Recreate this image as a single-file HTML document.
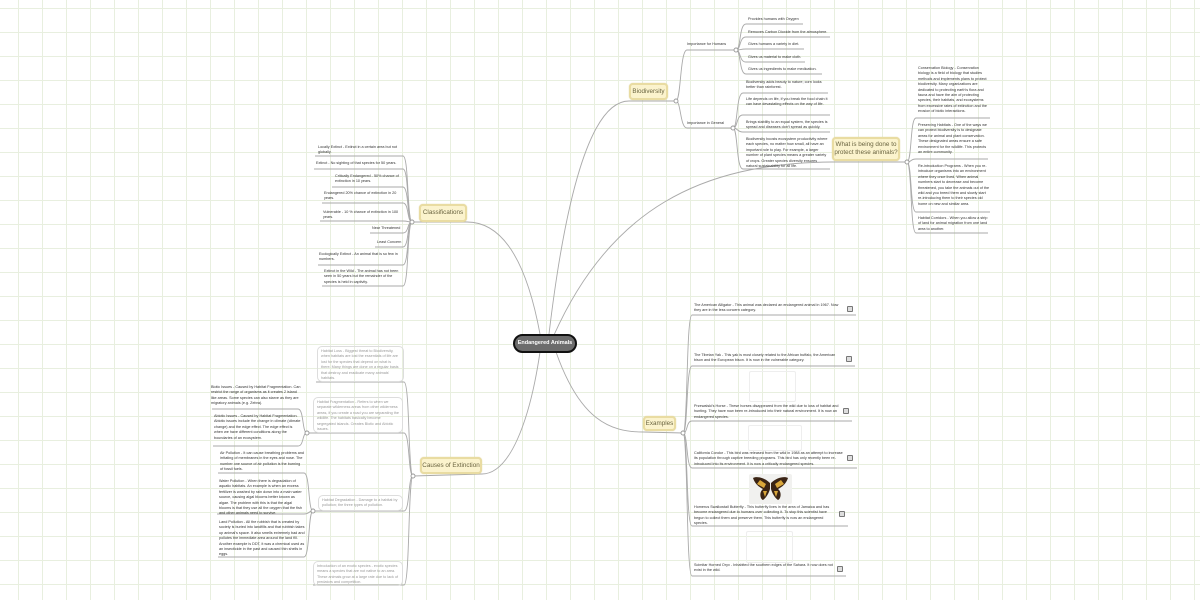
<!DOCTYPE html>
<html><head><meta charset="utf-8">
<style>
html,body{margin:0;padding:0}
body{width:1200px;height:600px;position:relative;overflow:hidden;background-color:#fff;
background-image:linear-gradient(to right,#e8efdf 1px,transparent 1px),linear-gradient(to bottom,#e8efdf 1px,transparent 1px);
background-size:24px 24px;background-position:18px 8px;font-family:"Liberation Sans",sans-serif}
svg{position:absolute;left:0;top:0}
.t{position:absolute;font-size:3.75px;line-height:5.4px;color:#333;white-space:normal}
.g{color:#999}
.n{position:absolute;background:#fbf3cd;border:2px solid #e9dca2;border-radius:4px;color:#6a6440;font-size:6.3px;text-align:center;box-sizing:border-box;box-shadow:0 0 1px #d8cc90}
.box{position:absolute;border:1px solid #ddd;border-radius:5px;box-sizing:border-box;padding:2px 3px}
.c{position:absolute;left:513px;top:334px;width:64px;height:19px;background:#6c6c6c;border:2px solid #111;border-radius:10px;box-sizing:border-box;color:#fff;font-weight:bold;font-size:5.5px;line-height:15px;text-align:center}
.img{position:absolute;border:1px solid #eee;border-radius:2px}
.ic{position:absolute;width:4px;height:4px;border:1px solid #777;border-radius:1px;background:#ddd}
</style></head><body>
<svg width="1200" height="600" fill="none" stroke="#aaa" stroke-width="0.9">
<path d="M549 334 C565 200 590 101 629 101 L676 101"/>
<path d="M554 335 C610 210 700 163 832 162 L907 162"/>
<path d="M540 334 C530 280 510 222 467 222 L412 222"/>
<path d="M540 352 C530 420 510 474 482 474 L413 476"/>
<path d="M556 352 C580 420 610 432 643 432 L683 433"/>
<path d="M676 101 C681 101 680 50 687 50 L736 50"/>
<path d="M676 101 C681 101 680 128 687 128 L733 128"/>
<path d="M736 50 C741 50 739 24 746 24 L803 24"/>
<path d="M736 50 C741 50 739 37 746 37 L830 37"/>
<path d="M736 50 C741 50 740 49 746 49 L804 49"/>
<path d="M736 50 C741 50 739 62 746 62 L805 62"/>
<path d="M736 50 C741 50 739 74 746 74 L822 74"/>
<path d="M733 128 C738 128 736 93 743 93 L828 93"/>
<path d="M733 128 C738 128 736 115 743 115 L830 115"/>
<path d="M733 128 C738 128 737 132 743 132 L830 132"/>
<path d="M733 128 C738 128 736 169 743 169 L830 169"/>
<path d="M907 162 C912 162 910 118 916 118 L990 118"/>
<path d="M907 162 C912 162 910 159 916 159 L988 159"/>
<path d="M907 162 C912 162 910 212 916 212 L990 212"/>
<path d="M907 162 C912 162 910 233 916 233 L988 233"/>
<path d="M412 222 C407 222 409 156 403 156 L315 156"/>
<path d="M412 222 C407 222 409 169 403 169 L314 169"/>
<path d="M412 222 C407 222 409 187 403 187 L332 187"/>
<path d="M412 222 C407 222 409 203 403 203 L322 203"/>
<path d="M412 222 C407 222 409 221 403 221 L320 221"/>
<path d="M412 222 C407 222 409 233 403 233 L370 233"/>
<path d="M412 222 C407 222 409 247 403 247 L375 247"/>
<path d="M412 222 C407 222 409 265 403 265 L318 265"/>
<path d="M412 222 C407 222 409 286 403 286 L322 286"/>
<path d="M413 476 C408 476 410 382 404 382 L316 382"/>
<path d="M413 476 C408 476 410 433 404 433 L307 433"/>
<path d="M413 476 C408 476 410 511 404 511 L313 511"/>
<path d="M413 476 C408 476 410 585 404 585 L313 585"/>
<path d="M307 433 C302 433 304 409 298 409 L212 409"/>
<path d="M307 433 C302 433 304 446 298 446 L213 446"/>
<path d="M313 511 C308 511 310 473 304 473 L218 473"/>
<path d="M313 511 C308 511 310 514 304 514 L217 514"/>
<path d="M313 511 C308 511 310 557 304 557 L218 557"/>
<path d="M683 433 C688 433 686 315 692 315 L856 315"/>
<path d="M683 433 C688 433 686 366 692 366 L855 366"/>
<path d="M683 433 C688 433 686 421 692 421 L852 421"/>
<path d="M683 433 C688 433 686 468 692 468 L857 468"/>
<path d="M683 433 C688 433 686 526 692 526 L848 526"/>
<path d="M683 433 C688 433 686 576 692 576 L846 576"/>
<g fill="#fff" stroke="#999">
<circle cx="676" cy="101" r="2"/><circle cx="736" cy="50" r="2"/><circle cx="733" cy="128" r="2"/>
<circle cx="907" cy="162" r="2"/><circle cx="412" cy="222" r="2"/><circle cx="413" cy="476" r="2"/>
<circle cx="307" cy="433" r="2"/><circle cx="313" cy="511" r="2"/><circle cx="683" cy="433" r="2"/>
</g>
</svg>

<div class="c">Endangered Animals</div>
<div class="n" style="left:629px;top:83px;width:39px;height:17px;line-height:13px">Biodiversity</div>
<div class="n" style="left:832px;top:137px;width:68px;height:24px;line-height:7.5px;padding-top:2px">What is being done to protect these animals?</div>
<div class="n" style="left:419px;top:204px;width:48px;height:18px;line-height:14px">Classifications</div>
<div class="n" style="left:420px;top:457px;width:62px;height:17px;line-height:13px">Causes of Extinction</div>
<div class="n" style="left:643px;top:416px;width:33px;height:15px;line-height:11px">Examples</div>

<div class="t" style="left:687px;top:42px">Importance for Humans</div>
<div class="t" style="left:687px;top:121px">Importance in General</div>
<div class="t" style="left:748px;top:17px">Provides humans with Oxygen</div>
<div class="t" style="left:748px;top:30px">Removes Carbon Dioxide from the atmosphere.</div>
<div class="t" style="left:748px;top:42px">Gives humans a variety in diet.</div>
<div class="t" style="left:748px;top:55px">Gives us material to make cloth.</div>
<div class="t" style="left:748px;top:67px">Gives us ingredients to make medication.</div>
<div class="t" style="left:746px;top:80px;width:84px">Biodiversity adds beauty to nature; corn looks better than rainforest.</div>
<div class="t" style="left:746px;top:97px;width:84px">Life depends on life, if you break the food chain it can have devastating effects on the way of life.</div>
<div class="t" style="left:746px;top:120px;width:84px">Brings stability to an equal system, the species is spread and diseases don't spread as quickly.</div>
<div class="t" style="left:746px;top:137px;width:82px">Biodiversity boosts ecosystem productivity where each species, no matter how small, all have an important role to play. For example, a larger number of plant species means a greater variety of crops. Greater species diversity ensures natural sustainability for all life.</div>

<div class="t" style="left:918px;top:66px;width:72px">Conservation Biology - Conservation biology is a field of biology that studies methods and implements plans to protect biodiversity. Many organizations are dedicated to protecting earth's flora and fauna and have the aim of protecting species, their habitats, and ecosystems from excessive rates of extinction and the erosion of biotic interactions.</div>
<div class="t" style="left:918px;top:123px;width:70px">Preserving Habitats - One of the ways we can protect biodiversity is to designate areas for animal and plant conservation. These designated areas ensure a safe environment for the wildlife. This protects an entire community.</div>
<div class="t" style="left:918px;top:164px;width:72px">Re-introduction Programs - When you re-introduce organisms into an environment where they once lived. When animal numbers start to decrease and become threatened, you take the animals out of the wild and you breed them and slowly start re-introducing them to their species old home on new and similar area.</div>
<div class="t" style="left:918px;top:216px;width:72px">Habitat Corridors - When you allow a strip of land for animal migration from one land area to another.</div>

<div class="t" style="left:318px;top:145px;width:88px">Locally Extinct - Extinct in a certain area but not globally.</div>
<div class="t" style="left:316px;top:161px">Extinct - No sighting of that species for 50 years.</div>
<div class="t" style="left:335px;top:174px;width:68px">Critically Endangered - 50% chance of extinction in 10 years.</div>
<div class="t" style="left:324px;top:191px;width:80px">Endangered 20% chance of extinction in 20 years.</div>
<div class="t" style="left:323px;top:210px;width:80px">Vulnerable - 10 % chance of extinction in 100 years.</div>
<div class="t" style="left:372px;top:226px">Near Threatened</div>
<div class="t" style="left:377px;top:240px">Least Concern</div>
<div class="t" style="left:319px;top:252px;width:84px">Ecologically Extinct - An animal that is so few in numbers.</div>
<div class="t" style="left:324px;top:269px;width:80px">Extinct in the Wild - The animal has not been seen in 50 years but the remainder of the species is held in captivity.</div>

<div class="box t g" style="left:317px;top:346px;width:87px;height:36px">Habitat Loss - Biggest threat to Biodiversity, when habitats are lost the essentials of life are lost for the species that depend on what is there. Many things are done on a regular basis that destroy and eradicate many animals' habitats.</div>
<div class="box t g" style="left:313px;top:397px;width:90px;height:36px">Habitat Fragmentation - Refers to when we separate wilderness areas from other wilderness areas, if you create a road you are separating the wildlife. The habitats basically become segregated islands. Creates Biotic and Abiotic issues.</div>
<div class="box t g" style="left:318px;top:495px;width:85px;height:16px">Habitat Degradation - Damage to a habitat by pollution; the three types of pollution.</div>
<div class="box t g" style="left:313px;top:561px;width:90px;height:25px">Introduction of an exotic species - exotic species means a species that are not native to an area. These animals grow at a large rate due to lack of predators and competition.</div>

<div class="t" style="left:211px;top:385px;width:90px">Biotic Issues - Caused by Habitat Fragmentation. Can restrict the range of organisms as it creates 2 island like areas. Some species can also starve as they are migratory animals (e.g. Zebra).</div>
<div class="t" style="left:214px;top:414px;width:88px">Abiotic Issues - Caused by Habitat Fragmentation. Abiotic issues include the change in climate (climate change) and the edge effect. The edge effect is when we have different conditions along the boundaries of an ecosystem.</div>
<div class="t" style="left:220px;top:451px;width:84px">Air Pollution - It can cause breathing problems and irritating of membranes in the eyes and nose. The number one source of air pollution is the burning of fossil fuels.</div>
<div class="t" style="left:219px;top:479px;width:86px">Water Pollution - When there is degradation of aquatic habitats. An example is when an excess fertilizer is washed by rain down into a main water source, causing algal blooms better known as algae. The problem with this is that the algal blooms is that they use all the oxygen that the fish and other animals need to survive.</div>
<div class="t" style="left:219px;top:520px;width:86px">Land Pollution - All the rubbish that is created by society is buried into landfills and that rubbish takes up animal's space. It also smells extremely bad and pollutes the immediate area around the land fill. Another example is DDT, it was a chemical used as an insecticide in the past and caused thin shells in eggs.</div>

<div class="t" style="left:694px;top:303px;width:152px">The American Alligator - This animal was declared an endangered animal in 1967. Now they are in the less concern category.</div>
<div class="ic" style="left:847px;top:306px"></div>
<div class="t" style="left:694px;top:353px;width:150px">The Tibetan Yak - This yak is most closely related to the African buffalo, the American bison and the European bison. It is now in the vulnerable category.</div>
<div class="ic" style="left:846px;top:356px"></div>
<div class="img" style="left:749px;top:371px;width:45px;height:29px"></div>
<div class="t" style="left:694px;top:404px;width:148px">Przewalski's Horse - These horses disappeared from the wild due to loss of habitat and hunting. They have now been re-introduced into their natural environment. It is now an endangered species.</div>
<div class="ic" style="left:843px;top:408px"></div>
<div class="img" style="left:748px;top:425px;width:52px;height:24px"></div>
<div class="t" style="left:694px;top:451px;width:152px">California Condor - This bird was released from the wild in 1988 as an attempt to increase its population through captive breeding programs. This bird has only recently been re-introduced into its environment. It is now a critically endangered species.</div>
<div class="ic" style="left:847px;top:455px"></div>
<div class="img" style="left:749px;top:474px;width:41px;height:28px;background:#f1f1ef;border-color:#f1f1ef">
<svg width="41" height="28" viewBox="0 0 41 28"><path d="M20 8 C14 2 6 1 3 3 C5 9 9 12 13 14 C9 17 10 24 13 25 C16 23 19 18 20 14 Z" fill="#3a2414"/><path d="M21 8 C27 2 35 1 38 3 C36 9 32 12 28 14 C32 17 31 24 28 25 C25 23 22 18 21 14 Z" fill="#3a2414"/><path d="M10 5 L16 9 L14 13 L7 9Z M31 5 L25 9 L27 13 L34 9Z M13 16 L17 16 L15 22Z M28 16 L24 16 L26 22Z" fill="#d9a63a"/></svg></div>
<div class="t" style="left:694px;top:505px;width:144px">Homerus Swallowtail Butterfly - This butterfly lives in the area of Jamaica and has become endangered due to humans over collecting it. To stop this scientist have begun to collect them and preserve them. This butterfly is now an endangered species.</div>
<div class="ic" style="left:839px;top:511px"></div>
<div class="img" style="left:746px;top:531px;width:45px;height:30px"></div>
<div class="t" style="left:694px;top:563px;width:144px">Scimitar Horned Oryx - Inhabited the southern edges of the Sahara. It now does not exist in the wild.</div>
<div class="ic" style="left:837px;top:566px"></div>
</body></html>
